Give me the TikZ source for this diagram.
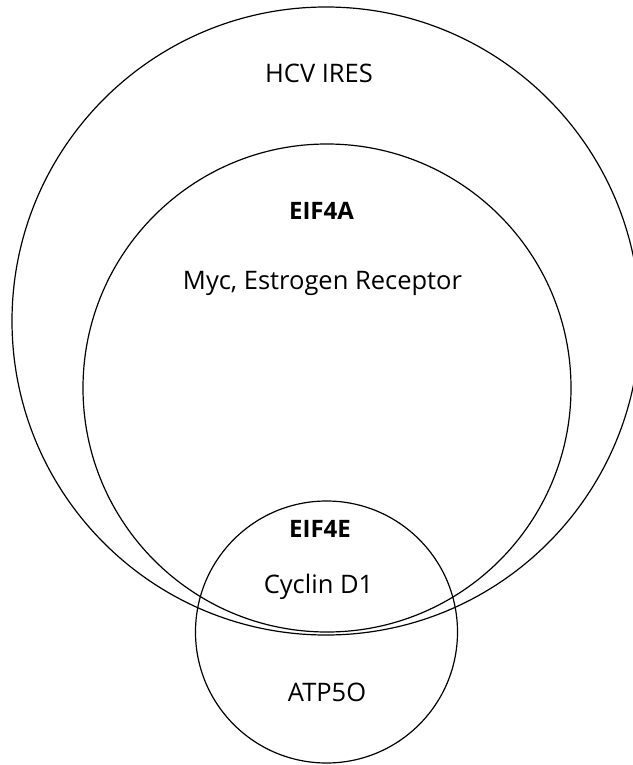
\documentclass[tikz,border=0pt]{standalone}
\usepackage{fontspec}
\setmainfont{Open Sans}
\usetikzlibrary{positioning}
\tikzset{
  venn/.style ={circle,draw=black,line width=1.2pt,inner sep=0pt,outer sep=0pt},
  lbl/.style  ={font=\fontsize{25.5}{30}\selectfont,inner sep=0pt,anchor=base},
  head/.style ={lbl,font=\fontsize{24}{28}\selectfont\bfseries},
}

\begin{document}
\begin{tikzpicture}[x=1pt,y=-1pt]
  \useasboundingbox (0,0) rectangle (632,765);

  % sets
  \node[venn,minimum size=628pt] (hcv) at (326,321) {};
  \node[venn,minimum size=488pt] (eifa) at (327,388) {};
  \node[venn,minimum size=262pt] (eife) at (326.5,632) {};

  % labels (placed on their baselines)
  \node[lbl]  (hcvlbl)  at (319,83)    {HCV IRES};
  \node[head] (eifalbl) at (321.5,219) {EIF4A};
  \node[lbl]  (myc)     at (322.5,289) {Myc, Estrogen Receptor};
  \node[head] (eifelbl) at (320,537)   {EIF4E};
  \node[lbl]  (cyc)     at (318.5,593) {Cyclin D1};
  \node[lbl]  (atp)     at (327,701)   {ATP5O};
\end{tikzpicture}
\end{document}
